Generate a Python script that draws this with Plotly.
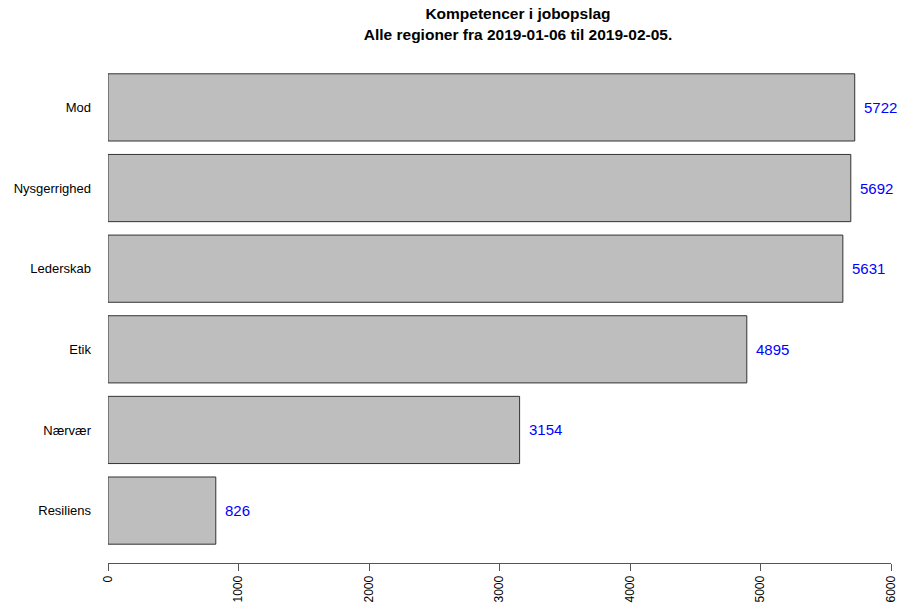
import plotly.graph_objects as go

categories = ["Mod", "Nysgerrighed", "Lederskab", "Etik", "Nærvær", "Resiliens"]
values = [5722, 5692, 5631, 4895, 3154, 826]
x_ticks = [0, 1000, 2000, 3000, 4000, 5000, 6000]

n = len(categories)
ypos = [n - 1 - i for i in range(n)]

W, H = 899, 608

fig = go.Figure()
fig.add_trace(go.Bar(
    x=values, y=ypos, orientation="h", width=1/1.2,
    marker=dict(color="#BEBEBE", line=dict(color="#333333", width=1)),
    hoverinfo="skip", cliponaxis=False,
))

for v, y in zip(values, ypos):
    fig.add_annotation(x=v, y=y, text=str(v), showarrow=False,
                       xanchor="left", yanchor="middle", xshift=7,
                       font=dict(family="Liberation Sans", size=15, color="#0000FF"))

fig.update_layout(
    width=W, height=H,
    margin=dict(l=108, r=8, t=55, b=45),
    paper_bgcolor="white", plot_bgcolor="white",
    showlegend=False,
    font=dict(family="Liberation Sans", size=12, color="black"),
    title=dict(
        text="<b>Kompetencer i jobopslag<br>Alle regioner fra 2019-01-06 til 2019-02-05.</b>",
        x=518/W, xanchor="center", xref="container",
        y=0.968, yanchor="top", yref="container",
        font=dict(family="Liberation Sans", size=15.5, color="black"),
    ),
    xaxis=dict(
        range=[0, 6000], tickvals=x_ticks, ticktext=[str(t) for t in x_ticks],
        tickangle=-90, ticks="outside", ticklen=7, tickcolor="#555555",
        showline=True, linecolor="#555555", linewidth=1,
        showgrid=False, zeroline=False, automargin=False,
        tickfont=dict(family="Liberation Sans", size=12, color="black"),
    ),
    yaxis=dict(
        range=[-0.65, n - 1 + 0.65], tickvals=ypos, ticktext=categories,
        showline=False, showgrid=False, zeroline=False, ticks="",
        ticklabelstandoff=16, automargin=False,
        tickfont=dict(family="Liberation Sans", size=13, color="black"),
    ),
)

fig.write_html(
    "out.html",
    config={"displayModeBar": False},
    post_script="document.body.style.margin='0';document.body.style.overflow='hidden';",
)
